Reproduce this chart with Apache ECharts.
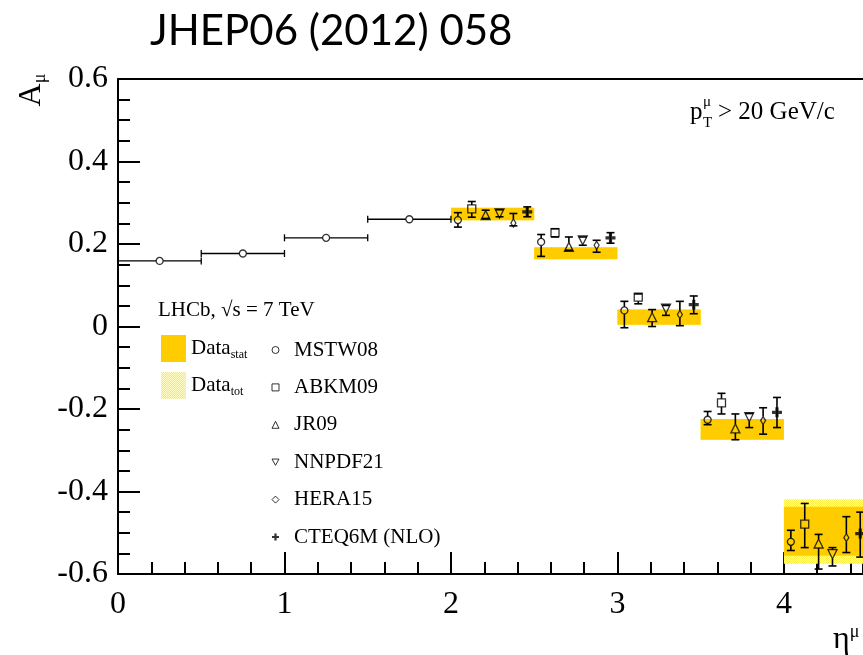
<!DOCTYPE html>
<html>
<head>
<meta charset="utf-8">
<script src="https://cdn.jsdelivr.net/npm/echarts@6/dist/echarts.min.js"></script>
<style>
  html, body { margin: 0; padding: 0; background: #fff; }
  #chart { width: 863px; height: 655px; }
</style>
</head>
<body>
<div id="chart"></div>
<script>
// Muon charge asymmetry A_mu versus muon pseudorapidity, LHCb 7 TeV

// Measured bins (eta ranges) with the data bands
const binLow = [2.0, 2.5, 3.0, 3.5, 4.0];
const binHigh = [2.5, 3.0, 3.5, 4.0, 4.5];
const statLow = [0.2575, 0.163, 0.004, -0.2745, -0.556];
const statHigh = [0.288, 0.192, 0.041, -0.224, -0.437];
const totLow = [0.2575, 0.163, 0.004, -0.2745, -0.575];
const totHigh = [0.288, 0.192, 0.041, -0.224, -0.419];

// MSTW08 prediction below the LHCb acceptance
const lowEtaCenter = [0.25, 0.75, 1.25, 1.75];
const lowEtaHalfWidth = [0.25, 0.25, 0.25, 0.25];
const lowEtaMstw = [0.159, 0.177, 0.215, 0.260];

// PDF predictions in the measured bins: central value, lower and upper edge
const pdfNames = ['MSTW08', 'ABKM09', 'JR09', 'NNPDF21', 'HERA15', 'CTEQ6M (NLO)'];
const mstw08Val = [0.258, 0.205, 0.039, -0.226, -0.522];
const mstw08Lo = [0.241, 0.170, -0.003, -0.238, -0.543];
const mstw08Hi = [0.276, 0.223, 0.061, -0.206, -0.494];
const abkm09Val = [0.285, 0.2275, 0.071, -0.185, -0.479];
const abkm09Lo = [0.265, 0.217, 0.055, -0.212, -0.536];
const abkm09Hi = [0.303, 0.237, 0.079, -0.162, -0.429];
const jr09Val = [0.270, 0.193, 0.0226, -0.247, -0.526];
const jr09Lo = [0.262, 0.185, 0.0, -0.2745, -0.588];
const jr09Hi = [0.282, 0.217, 0.041, -0.212, -0.504];
const nnpdf21Val = [0.274, 0.209, 0.043, -0.220, -0.552];
const nnpdf21Lo = [0.266, 0.197, 0.027, -0.245, -0.5805];
const nnpdf21Hi = [0.283, 0.217, 0.051, -0.211, -0.536];
const hera15Val = [0.251, 0.197, 0.029, -0.228, -0.512];
const hera15Lo = [0.244, 0.180, 0.002, -0.261, -0.548];
const hera15Hi = [0.274, 0.209, 0.061, -0.197, -0.461];
const cteq6mVal = [0.278, 0.215, 0.053, -0.208, -0.502];
const cteq6mLo = [0.266, 0.202, 0.031, -0.245, -0.559];
const cteq6mHi = [0.290, 0.2275, 0.074, -0.172, -0.450];

// Axis tick labels
const xTickLabels = ['0', '1', '2', '3', '4'];
const yTickLabels = ['-0.6', '-0.4', '-0.2', '0', '0.2', '0.4', '0.6'];

const pdfVals = [mstw08Val, abkm09Val, jr09Val, nnpdf21Val, hera15Val, cteq6mVal];
const pdfLos = [mstw08Lo, abkm09Lo, jr09Lo, nnpdf21Lo, hera15Lo, cteq6mLo];
const pdfHis = [mstw08Hi, abkm09Hi, jr09Hi, nnpdf21Hi, hera15Hi, cteq6mHi];

// Marker styling per prediction
const pdfSymbols = [
  'circle',
  'rect',
  'triangle',
  'path://M0,0 L10,0 L5,9 Z',
  'diamond',
  'path://M3.4,0 H6.6 V3.4 H10 V6.6 H6.6 V10 H3.4 V6.6 H0 V3.4 H3.4 Z'
];
const pdfSizes = [7, 8, 9, 9, [5, 8], 10];
const pdfFilled = [false, false, false, false, false, true];
const markerGap = [3.5, 4, 4.5, 4.5, 4, 0];

const SERIF = '"Liberation Serif", "DejaVu Serif", serif';
const STAT_COLOR = '#ffcc00';

// Fine dotted yellow fill for the total-uncertainty band
function makeDotPattern() {
  const c = document.createElement('canvas');
  c.width = 2; c.height = 2;
  const ctx = c.getContext('2d');
  ctx.fillStyle = '#fffbc4';
  ctx.fillRect(0, 0, 2, 2);
  ctx.fillStyle = '#ffee44';
  ctx.fillRect(0, 0, 1, 1);
  ctx.fillRect(1, 1, 1, 1);
  return { image: c, repeat: 'repeat' };
}
const totPattern = makeDotPattern();

// x position of prediction k inside bin b: six equal slots per bin
function slotX(b, k) {
  const w = (binHigh[b] - binLow[b]) / pdfNames.length;
  return binLow[b] + (k + 0.5) * w;
}

function bandData(lo, hi) {
  return binLow.map((x0, i) => [x0, binHigh[i], lo[i], hi[i]]);
}

function bandSeries(name, lo, hi, fill) {
  return {
    name: name,
    type: 'custom',
    clip: true,
    z: 1,
    itemStyle: { color: fill },
    encode: { x: [0, 1], y: [2, 3] },
    data: bandData(lo, hi),
    renderItem: function (params, api) {
      const p0 = api.coord([api.value(0), api.value(3)]);
      const p1 = api.coord([api.value(1), api.value(2)]);
      return {
        type: 'rect',
        shape: { x: p0[0], y: p0[1], width: p1[0] - p0[0], height: p1[1] - p0[1] },
        style: { fill: fill }
      };
    }
  };
}

// vertical error bars with caps, leaving room for the hollow marker
const errData = [];
pdfNames.forEach((n, k) => {
  binLow.forEach((x0, b) => {
    errData.push([slotX(b, k), pdfVals[k][b], pdfLos[k][b], pdfHis[k][b], k]);
  });
});

const CAP = 4;
const LINE = { stroke: '#000', lineWidth: 1.6 };

const errorSeries = {
  name: 'pdf errors',
  type: 'custom',
  z: 3,
  clip: true,
  encode: { x: 0, y: [1, 2, 3] },
  data: errData,
  renderItem: function (params, api) {
    const x = api.value(0);
    const c = api.coord([x, api.value(1)]);
    const yLo = api.coord([x, api.value(2)])[1];
    const yHi = api.coord([x, api.value(3)])[1];
    const g = markerGap[api.value(4)];
    const kids = [];
    if (yHi < c[1] - g) kids.push({ type: 'line', shape: { x1: c[0], y1: yHi, x2: c[0], y2: c[1] - g }, style: LINE });
    if (yLo > c[1] + g) kids.push({ type: 'line', shape: { x1: c[0], y1: c[1] + g, x2: c[0], y2: yLo }, style: LINE });
    kids.push({ type: 'line', shape: { x1: c[0] - CAP, y1: yHi, x2: c[0] + CAP, y2: yHi }, style: LINE });
    kids.push({ type: 'line', shape: { x1: c[0] - CAP, y1: yLo, x2: c[0] + CAP, y2: yLo }, style: LINE });
    return { type: 'group', children: kids };
  }
};

// horizontal bin-width bars for the low-eta MSTW08 points
const lowEtaBars = {
  name: 'low eta bins',
  type: 'custom',
  z: 3,
  encode: { x: 0, y: 1 },
  data: lowEtaCenter.map((x, i) => [x, lowEtaMstw[i], lowEtaHalfWidth[i]]),
  renderItem: function (params, api) {
    const x = api.value(0), v = api.value(1), hw = api.value(2);
    const c = api.coord([x, v]);
    const l = api.coord([x - hw, v]);
    const r = api.coord([x + hw, v]);
    const g = markerGap[0];
    const st = { stroke: '#000', lineWidth: 1.3 };
    return {
      type: 'group',
      children: [
        { type: 'line', shape: { x1: l[0], y1: c[1], x2: c[0] - g, y2: c[1] }, style: st },
        { type: 'line', shape: { x1: c[0] + g, y1: c[1], x2: r[0], y2: c[1] }, style: st },
        { type: 'line', shape: { x1: l[0], y1: c[1] - 3.5, x2: l[0], y2: c[1] + 3.5 }, style: st },
        { type: 'line', shape: { x1: r[0], y1: c[1] - 3.5, x2: r[0], y2: c[1] + 3.5 }, style: st }
      ]
    };
  }
};

const markerSeries = pdfNames.map((name, k) => {
  const pts = binLow.map((x0, b) => [slotX(b, k), pdfVals[k][b]]);
  if (k === 0) lowEtaCenter.forEach((x, i) => pts.push([x, lowEtaMstw[i]]));
  return {
    name: name,
    type: 'scatter',
    z: 4,
    symbol: pdfSymbols[k],
    symbolSize: pdfSizes[k],
    itemStyle: pdfFilled[k]
      ? { color: '#000', borderWidth: 0 }
      : { color: 'rgba(255,255,255,0)', borderColor: '#000', borderWidth: 1.3 },
    emphasis: { disabled: true },
    data: pts
  };
});

const chart = echarts.init(document.getElementById('chart'), null, { renderer: 'canvas' });

chart.setOption({
  animation: false,
  backgroundColor: '#fff',
  grid: { left: 118, top: 79, width: 745, height: 495, containLabel: false },
  xAxis: [{
    type: 'value',
    min: 0,
    max: 4.475,
    interval: 1,
    axisLine: { show: true, onZero: false, lineStyle: { color: '#000', width: 2 } },
    axisTick: { show: true, inside: true, length: 22, lineStyle: { color: '#000', width: 2 } },
    minorTick: { show: true, splitNumber: 5, length: 12, lineStyle: { color: '#000', width: 2 } },
    splitLine: { show: false },
    axisLabel: {
      margin: 15,
      fontFamily: SERIF,
      fontSize: 32,
      color: '#000',
      showMaxLabel: false,
      formatter: function (v) {
        const i = Math.round(v);
        return Math.abs(v - i) < 1e-6 && xTickLabels[i] !== undefined ? xTickLabels[i] : '';
      }
    }
  }, {
    type: 'value',
    position: 'top',
    min: 0,
    max: 4.475,
    axisLine: { show: true, onZero: false, lineStyle: { color: '#000', width: 2 } },
    axisTick: { show: false },
    axisLabel: { show: false },
    splitLine: { show: false }
  }],
  yAxis: {
    type: 'value',
    min: -0.6,
    max: 0.6,
    interval: 0.2,
    axisLine: { show: true, onZero: false, lineStyle: { color: '#000', width: 2 } },
    axisTick: { show: true, inside: true, length: 22, lineStyle: { color: '#000', width: 2 } },
    minorTick: { show: true, splitNumber: 4, length: 12, lineStyle: { color: '#000', width: 2 } },
    splitLine: { show: false },
    axisLabel: {
      margin: 10,
      fontFamily: SERIF,
      fontSize: 32,
      color: '#000',
      formatter: function (v) {
        const i = Math.round((v + 0.6) / 0.2);
        return yTickLabels[i] !== undefined ? yTickLabels[i] : '';
      }
    }
  },
  legend: [{
    orient: 'vertical',
    left: 161,
    top: 335,
    padding: 0,
    itemWidth: 25,
    itemHeight: 27,
    itemGap: 10,
    selectedMode: false,
    data: [
      { name: 'Data_stat', icon: 'rect', itemStyle: { color: STAT_COLOR } },
      { name: 'Data_tot', icon: 'rect', itemStyle: { color: totPattern } }
    ],
    formatter: function (n) {
      return '{m|Data}{s|' + n.split('_')[1] + '}';
    },
    textStyle: {
      color: '#000',
      fontFamily: SERIF,
      rich: {
        m: { fontFamily: SERIF, fontSize: 21, lineHeight: 24, color: '#000' },
        s: { fontFamily: SERIF, fontSize: 12, lineHeight: 8, verticalAlign: 'bottom', color: '#000' }
      }
    }
  }, {
    orient: 'vertical',
    left: 271.5,
    top: 339,
    padding: 0,
    itemWidth: 7,
    itemHeight: 7,
    itemGap: 15.4,
    selectedMode: false,
    itemStyle: { borderWidth: 1 },
    data: pdfNames,
    textStyle: {
      color: '#000',
      fontFamily: SERIF,
      fontSize: 21,
      lineHeight: 22,
      padding: [0, 0, 0, 10]
    }
  }],
  graphic: [
    {
      type: 'text', left: 150, top: 10,
      style: { text: 'JHEP06 (2012) 058', font: '42px Lato, "Open Sans", sans-serif', fill: '#000' }
    },
    {
      type: 'text', x: 32, y: 90, rotation: Math.PI / 2,
      style: {
        text: '{a|A}{s|μ}', align: 'center', verticalAlign: 'middle',
        rich: {
          a: { fontFamily: SERIF, fontSize: 32, lineHeight: 34, fill: '#000' },
          s: { fontFamily: SERIF, fontSize: 18, lineHeight: 10, verticalAlign: 'bottom', fill: '#000' }
        }
      }
    },
    {
      type: 'text', x: 833, y: 640,
      style: {
        text: '{a|η}{s|μ}', align: 'left', verticalAlign: 'middle',
        rich: {
          a: { fontFamily: SERIF, fontSize: 32, lineHeight: 34, fill: '#000' },
          s: { fontFamily: SERIF, fontSize: 18, lineHeight: 10, verticalAlign: 'top', fill: '#000' }
        }
      }
    },
    {
      type: 'group', x: 690, y: 112,
      children: [
        { type: 'text', x: 0, y: 0, style: { text: 'p', font: '25px ' + SERIF, fill: '#000', verticalAlign: 'middle' } },
        { type: 'text', x: 13, y: -10, style: { text: 'μ', font: '15px ' + SERIF, fill: '#000', verticalAlign: 'middle' } },
        { type: 'text', x: 13, y: 11, style: { text: 'T', font: '15px ' + SERIF, fill: '#000', verticalAlign: 'middle' } },
        { type: 'text', x: 28, y: 0, style: { text: '> 20 GeV/c', font: '25px ' + SERIF, fill: '#000', verticalAlign: 'middle' } }
      ]
    },
    {
      type: 'text', left: 158, top: 300,
      style: { text: 'LHCb, √s = 7 TeV', font: '21px ' + SERIF, fill: '#000' }
    }
  ],
  series: [
    bandSeries('Data_tot', totLow, totHigh, totPattern),
    bandSeries('Data_stat', statLow, statHigh, STAT_COLOR),
    lowEtaBars,
    errorSeries
  ].concat(markerSeries)
});
</script>
</body>
</html>
